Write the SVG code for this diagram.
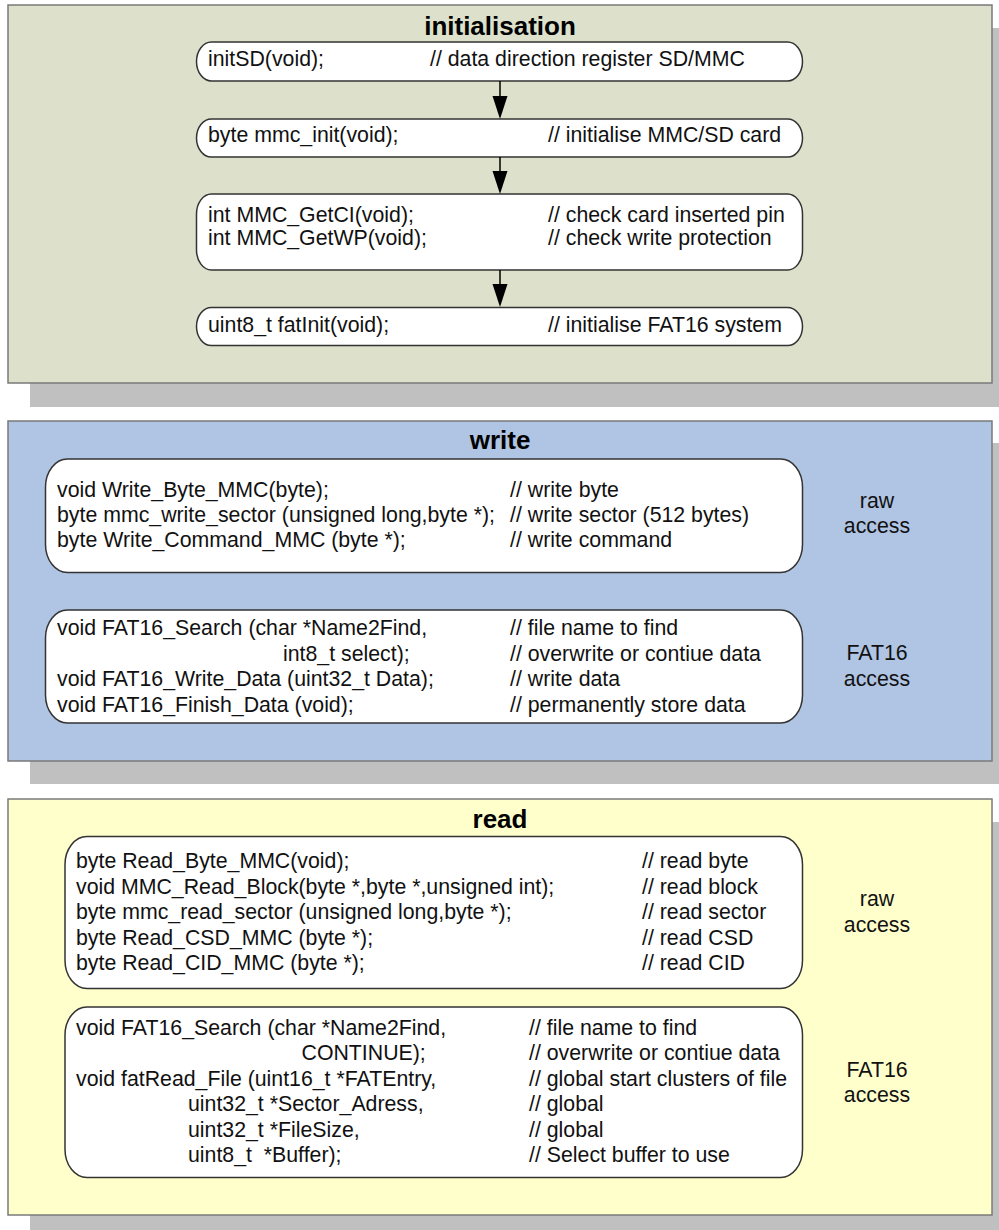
<svg xmlns="http://www.w3.org/2000/svg" width="999" height="1230" viewBox="0 0 999 1230">
<style>
.shadow{fill:#c0c0c0}
.panel{stroke:#7a7a7a;stroke-width:1.5}
.p1{fill:#dde0ca}
.p2{fill:#b0c4e3}
.p3{fill:#ffffcc}
.node{fill:#ffffff;stroke:#333333;stroke-width:1.5}
.title{font-family:"Liberation Sans",Arial,sans-serif;font-weight:bold;font-size:26px;fill:#000;text-anchor:middle}
.t{font-family:"Liberation Sans",Arial,sans-serif;font-size:21.3px;fill:#111;white-space:pre}
.side{font-family:"Liberation Sans",Arial,sans-serif;font-size:21.3px;fill:#111;text-anchor:middle}
.conn line{stroke:#000;stroke-width:1.5}
.conn path{fill:#000}
</style>
<rect class="shadow" x="30" y="28" width="975" height="379"/>
<rect class="shadow" x="30" y="443" width="975" height="341"/>
<rect class="shadow" x="30" y="822" width="975" height="420"/>
<g id="initialisation">
<rect class="panel p1" x="8" y="5" width="984" height="378"/>
<text class="title" x="500" y="35">initialisation</text>
</g>
<g id="write">
<rect class="panel p2" x="8" y="421" width="984" height="340"/>
<text class="title" x="500" y="449">write</text>
</g>
<g id="read">
<rect class="panel p3" x="8" y="799" width="984" height="416"/>
<text class="title" x="500" y="828">read</text>
</g>
<g id="initSD">
<rect class="node" x="196.5" y="42" width="606" height="39" rx="15" ry="19.5"/>
<text class="t" x="208" y="66">initSD(void);</text>
<text class="t" x="430" y="66">// data direction register SD/MMC</text>
</g>
<g id="mmc_init">
<rect class="node" x="196.5" y="119" width="606" height="38" rx="15" ry="19"/>
<text class="t" x="208" y="142">byte mmc_init(void);</text>
<text class="t" x="548" y="142">// initialise MMC/SD card</text>
</g>
<g id="getci">
<rect class="node" x="196.5" y="194" width="606" height="76" rx="15" ry="20"/>
<text class="t" x="208" y="222">int MMC_GetCI(void);</text>
<text class="t" x="548" y="222">// check card inserted pin</text>
<text class="t" x="208" y="245">int MMC_GetWP(void);</text>
<text class="t" x="548" y="245">// check write protection</text>
</g>
<g id="fatInit">
<rect class="node" x="196.5" y="307.5" width="606" height="38" rx="15" ry="19"/>
<text class="t" x="208" y="332">uint8_t fatInit(void);</text>
<text class="t" x="548" y="332">// initialise FAT16 system</text>
</g>
<g id="write_raw">
<rect class="node" x="45.5" y="459" width="757" height="113.5" rx="22" ry="28"/>
<text class="t" x="57" y="497">void Write_Byte_MMC(byte);</text>
<text class="t" x="510" y="497">// write byte</text>
<text class="t" x="57" y="522">byte mmc_write_sector (unsigned long,byte *);</text>
<text class="t" x="510" y="522">// write sector (512 bytes)</text>
<text class="t" x="57" y="547">byte Write_Command_MMC (byte *);</text>
<text class="t" x="510" y="547">// write command</text>
</g>
<g id="write_raw_label">
<text class="side" x="877" y="508">raw</text>
<text class="side" x="877" y="533">access</text>
</g>
<g id="write_fat">
<rect class="node" x="45.5" y="610" width="757" height="113" rx="22" ry="28"/>
<text class="t" x="57" y="635">void FAT16_Search (char *Name2Find,</text>
<text class="t" x="510" y="635">// file name to find</text>
<text class="t" x="283" y="660.5">int8_t select);</text>
<text class="t" x="510" y="660.5">// overwrite or contiue data</text>
<text class="t" x="57" y="686">void FAT16_Write_Data (uint32_t Data);</text>
<text class="t" x="510" y="686">// write data</text>
<text class="t" x="57" y="711.5">void FAT16_Finish_Data (void);</text>
<text class="t" x="510" y="711.5">// permanently store data</text>
</g>
<g id="write_fat_label">
<text class="side" x="877" y="660">FAT16</text>
<text class="side" x="877" y="686">access</text>
</g>
<g id="read_raw">
<rect class="node" x="65" y="836.5" width="737.5" height="152" rx="22" ry="28"/>
<text class="t" x="76" y="868">byte Read_Byte_MMC(void);</text>
<text class="t" x="642" y="868">// read byte</text>
<text class="t" x="76" y="893.5">void MMC_Read_Block(byte *,byte *,unsigned int);</text>
<text class="t" x="642" y="893.5">// read block</text>
<text class="t" x="76" y="919">byte mmc_read_sector (unsigned long,byte *);</text>
<text class="t" x="642" y="919">// read sector</text>
<text class="t" x="76" y="944.5">byte Read_CSD_MMC (byte *);</text>
<text class="t" x="642" y="944.5">// read CSD</text>
<text class="t" x="76" y="970">byte Read_CID_MMC (byte *);</text>
<text class="t" x="642" y="970">// read CID</text>
</g>
<g id="read_raw_label">
<text class="side" x="877" y="906">raw</text>
<text class="side" x="877" y="931.5">access</text>
</g>
<g id="read_fat">
<rect class="node" x="65" y="1007" width="737.5" height="170.5" rx="22" ry="28"/>
<text class="t" x="76" y="1035">void FAT16_Search (char *Name2Find,</text>
<text class="t" x="529" y="1035">// file name to find</text>
<text class="t" x="301.5" y="1060">CONTINUE);</text>
<text class="t" x="529" y="1060">// overwrite or contiue data</text>
<text class="t" x="76" y="1085.5">void fatRead_File (uint16_t *FATEntry,</text>
<text class="t" x="529" y="1085.5">// global start clusters of file</text>
<text class="t" x="188" y="1111">uint32_t *Sector_Adress,</text>
<text class="t" x="529" y="1111">// global</text>
<text class="t" x="188" y="1136.5">uint32_t *FileSize,</text>
<text class="t" x="529" y="1136.5">// global</text>
<text class="t" x="188" y="1162" xml:space="preserve">uint8_t  *Buffer);</text>
<text class="t" x="529" y="1162">// Select buffer to use</text>
</g>
<g id="read_fat_label">
<text class="side" x="877" y="1076.5">FAT16</text>
<text class="side" x="877" y="1101.5">access</text>
</g>
<g id="connectors" class="conn">
<line x1="500" y1="81" x2="500" y2="97"/>
<path d="M492.5,96 L507.5,96 L500,119 Z"/>
<line x1="500" y1="157" x2="500" y2="172"/>
<path d="M492.5,171 L507.5,171 L500,194 Z"/>
<line x1="500" y1="270" x2="500" y2="285"/>
<path d="M492.5,284 L507.5,284 L500,307 Z"/>
</g>
</svg>
